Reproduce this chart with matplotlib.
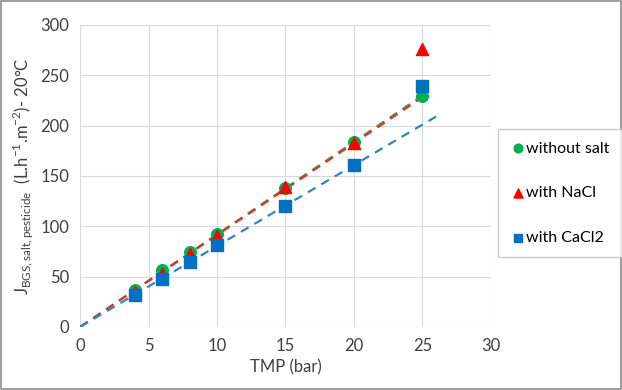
import matplotlib.pyplot as plt
import numpy as np
from matplotlib.patches import Rectangle

plt.rcParams['font.family'] = ['Lato', 'DejaVu Sans']
plt.rcParams['mathtext.fontset'] = 'custom'
plt.rcParams['mathtext.rm'] = 'Lato'

tmp = np.array([4, 6, 8, 10, 15, 20, 25])
j_nosalt = np.array([37, 56, 74, 92, 138, 184, 229])
j_nacl = np.array([35, 52, 72, 90, 139, 183, 276])
j_cacl2 = np.array([32, 48, 64, 81, 120, 161, 239])

fig = plt.figure(figsize=(6.22, 3.9), dpi=100)
ax = fig.add_axes([0.129, 0.162, 0.66, 0.774])

# linear trendlines (through origin), last point left out for the salts
def slope(x, y):
    return np.sum(x * y) / np.sum(x * x)

k_g = slope(tmp, j_nosalt)
k_r = slope(tmp[:-1], j_nacl[:-1])
k_b = slope(tmp[:-1], j_cacl2[:-1])
xx = np.linspace(0, 25, 50)
xb = np.linspace(0, 26.2, 50)
ax.plot(xx, k_g * xx, color="#2EA84A", linestyle=(0, (4, 3)), linewidth=1.6, zorder=2)
ax.plot(xx, k_r * xx, color="#E0332E", linestyle=(0, (4, 3)), linewidth=1.6, zorder=2)
ax.plot(xb, k_b * xb, color="#2E86C8", linestyle=(0, (4, 3)), linewidth=1.6, zorder=2)

ax.scatter(tmp, j_nosalt, marker='o', s=70, color="#00B050", label='without salt', zorder=3)
ax.scatter(tmp, j_nacl, marker='^', s=75, color="#FF0000", label='with NaCl', zorder=4)
ax.scatter(tmp, j_cacl2, marker='s', s=70, color="#0070C0", label='with CaCl2', zorder=5)

ax.set_xlim(0, 30)
ax.set_ylim(0, 300)
ax.set_xticks(range(0, 31, 5))
ax.set_yticks(range(0, 301, 50))
ax.grid(color="#D9D9D9", linewidth=0.8)
ax.set_axisbelow(True)
for s in ax.spines.values():
    s.set_visible(False)
ax.tick_params(length=0, labelsize=12, colors="#404040", pad=8)
ax.set_xlabel("TMP (bar)", fontsize=12, color="#404040", labelpad=4)
ax.set_ylabel(r"J$_{\mathrm{BGS,salt,pesticide}}$  (L.h$^{-1}$.m$^{-2}$)- 20°C",
              fontsize=12, color="#404040", labelpad=4)

leg = fig.legend(loc='upper left', bbox_to_anchor=(0.800, 0.67), fontsize=11.5,
                 frameon=True, fancybox=False, edgecolor="#BFBFBF",
                 labelspacing=1.9, handletextpad=0.05, handlelength=0.9,
                 borderpad=0.8, borderaxespad=0, markerscale=0.75)
leg.get_frame().set_linewidth(1.0)
leg._legend_box.align = "left"

fig.patches.append(Rectangle((0.002, 0.003), 0.996, 0.994, transform=fig.transFigure,
                             fill=False, edgecolor="#8C8C8C", linewidth=1.2))

fig.savefig("out.png", dpi=100)
